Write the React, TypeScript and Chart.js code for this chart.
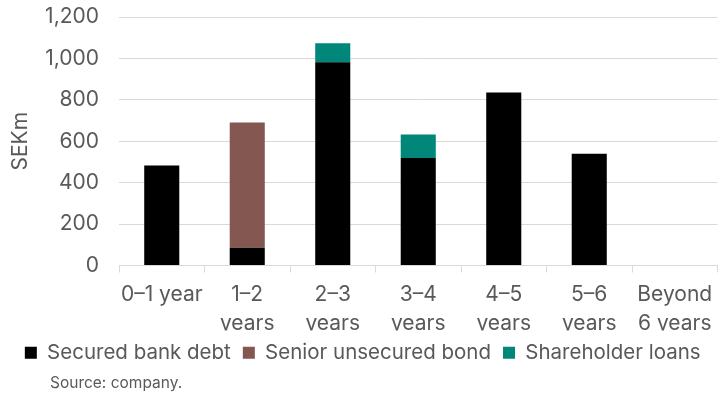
import React, { useEffect, useRef } from "react";
import { Chart, registerables } from "chart.js";

Chart.register(...registerables);

const categories: (string | string[])[] = [
  "0–1 year",
  ["1–2", "years"],
  ["2–3", "years"],
  ["3–4", "years"],
  ["4–5", "years"],
  ["5–6", "years"],
  ["Beyond", "6 years"],
];
const securedBankDebt = [483, 86, 982, 519, 835, 540, 0];
const seniorUnsecuredBond = [0, 604, 0, 0, 0, 0, 0];
const shareholderLoans = [0, 0, 91, 113, 0, 0, 0];
const yTicks = { min: 0, max: 1200, step: 200 };
const yTitle = "SEKm";
const sourceText = "Source: company.";

const FONT = "Inter, 'Liberation Sans', sans-serif";
const TEXT = "#595959";
const GRID = "#d9d9d9";

export default function App() {
  const ref = useRef<HTMLCanvasElement | null>(null);
  useEffect(() => {
    if (!ref.current) return;
    const sourcePlugin = {
      id: "sourceText",
      afterDraw(chart: any) {
        const ctx = chart.ctx;
        ctx.save();
        ctx.font = `15.5px ${FONT}`;
        ctx.fillStyle = TEXT;
        ctx.textBaseline = "middle";
        ctx.textAlign = "left";
        ctx.fillText(sourceText, 50, 383);
        ctx.restore();
      },
    };
    const chart = new Chart(ref.current, {
      type: "bar",
      data: {
        labels: categories,
        datasets: [
          { label: "Secured bank debt", data: securedBankDebt, backgroundColor: "#000000" },
          { label: "Senior unsecured bond", data: seniorUnsecuredBond, backgroundColor: "#845750" },
          { label: "Shareholder loans", data: shareholderLoans, backgroundColor: "#00877a" },
        ],
      },
      options: {
        animation: false,
        responsive: true,
        maintainAspectRatio: false,
        layout: { autoPadding: false, padding: { left: 8, right: 5.5, top: 17, bottom: 21 } },
        datasets: { bar: { barPercentage: 0.41, categoryPercentage: 1 } },
        scales: {
          x: {
            stacked: true,
            grid: { display: true, drawOnChartArea: false, offset: true, tickLength: 7, color: GRID },
            border: { display: true, color: GRID },
            ticks: {
              color: TEXT,
              font: { family: FONT, size: 21, lineHeight: 1.38 },
              maxRotation: 0,
              autoSkip: false,
              padding: 8,
            },
            afterFit(scale: any) {
              scale.height = 65;
            },
          },
          y: {
            stacked: true,
            min: yTicks.min,
            max: yTicks.max,
            grid: { color: GRID, drawTicks: false },
            border: { display: false },
            ticks: {
              stepSize: yTicks.step,
              color: TEXT,
              font: { family: FONT, size: 21 },
              padding: 20,
            },
            title: {
              display: true,
              text: yTitle,
              color: TEXT,
              font: { family: FONT, size: 21 },
              padding: { top: 0, bottom: 7 },
            },
            afterFit(scale: any) {
              scale.width = 111;
              scale.paddingTop = 0;
              scale.paddingBottom = 0;
            },
          },
        },
        plugins: {
          legend: {
            position: "bottom",
            labels: {
              color: TEXT,
              font: { family: FONT, size: 20.5 },
              boxWidth: 12,
              boxHeight: 12,
              padding: 12,
            },
          },
          tooltip: { enabled: false },
        },
      },
      plugins: [sourcePlugin],
    });
    return () => chart.destroy();
  }, []);
  return (
    <div style={{ position: "absolute", left: 0, top: 0, width: 723, height: 394 }}>
      <canvas ref={ref} />
    </div>
  );
}
